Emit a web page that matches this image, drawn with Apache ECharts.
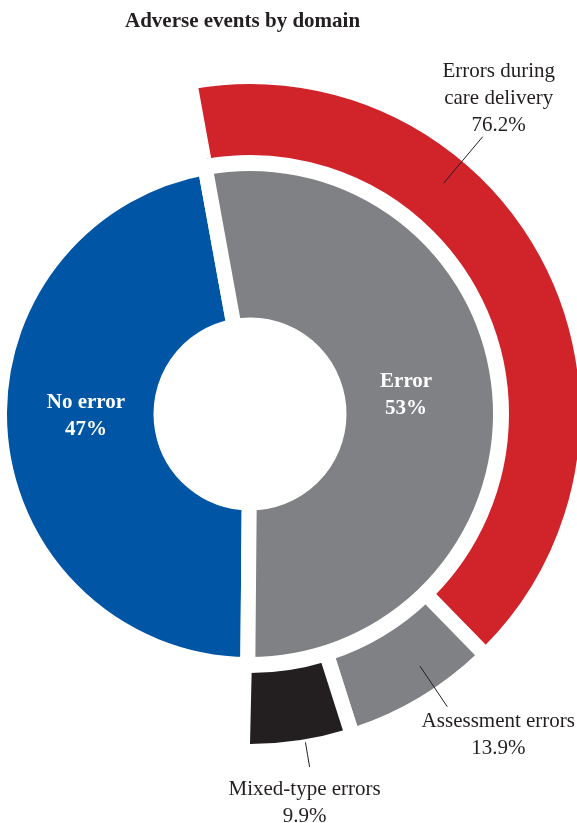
<!DOCTYPE html>
<html>
<head>
<meta charset="utf-8">
<script src="https://cdn.jsdelivr.net/npm/echarts@6/dist/echarts.min.js"></script>
<style>
  html, body { margin: 0; padding: 0; background: #ffffff; }
  #chart { width: 577px; height: 823px; }
</style>
</head>
<body>
<div id="chart"></div>
<script>
// ---- data ----
const titleText = 'Adverse events by domain';
const innerNames = ['No error', 'Error'];
const innerValues = [47, 53];
const outerNames = ['Errors during\ncare delivery', 'Assessment errors', 'Mixed-type errors'];
const outerValues = [76.2, 13.9, 9.9];

// ---- layout / style ----
const CX = 250, CY = 414;
const SERIF = '"Liberation Serif", "Times New Roman", serif';
const innerColors = ['#0055A4', '#808185'];
const outerColors = ['#D1232A', '#808185', '#231F20'];
const GAP = 15;
const innerLabelShift = [[8, -13], [-16, -4]];
const outerLabelCfg = [
  { turn: -22.7, r0: 301, r1: 362, dx: 16, dy: 2, va: 'bottom' },
  { turn: -3.0, r0: 304, r1: 353, dx: 51, dy: 1, va: 'top' },
  { turn: -1.4, r0: 333, r1: 358, dx: -5, dy: 9, va: 'top' }
];

// inner pie: No error starts near 6 o'clock, clockwise
const innerStart = -90.5;
const total = innerValues[0] + innerValues[1];
const errorStart = innerStart - 360 * innerValues[0] / total + 360;
const errorEnd = errorStart - 360 * innerValues[1] / total - 0.8;

const chart = echarts.init(document.getElementById('chart'), null, { renderer: 'canvas' });

const outerBase = {
  type: 'pie',
  center: [CX, CY],
  radius: [251.5, 337.5],
  startAngle: errorStart,
  endAngle: errorEnd,
  clockwise: true,
  avoidLabelOverlap: false,
  silent: true
};

chart.setOption({
  animation: false,
  backgroundColor: '#ffffff',
  title: {
    text: titleText,
    left: 125,
    top: 11,
    padding: 0,
    textStyle: { fontFamily: SERIF, fontSize: 21, fontWeight: 'bold', color: '#231F20' }
  },
  series: [
    {
      name: 'inner',
      type: 'pie',
      z: 2,
      center: [CX, CY],
      radius: [89, 250.5],
      startAngle: innerStart,
      clockwise: true,
      avoidLabelOverlap: false,
      silent: true,
      itemStyle: { borderColor: '#ffffff', borderWidth: GAP },
      label: {
        show: true,
        position: 'inside',
        formatter: '{b}\n{c}%',
        color: '#ffffff',
        fontFamily: SERIF,
        fontSize: 21,
        fontWeight: 'bold',
        lineHeight: 27
      },
      labelLine: { show: false },
      labelLayout: function (p) {
        const s = innerLabelShift[p.dataIndex];
        return { dx: s[0], dy: s[1] };
      },
      data: innerNames.map((n, i) => ({ name: n, value: innerValues[i], itemStyle: { color: innerColors[i] } }))
    },
    Object.assign({}, outerBase, {
      name: 'outer',
      z: 2,
      itemStyle: { borderColor: '#ffffff', borderWidth: GAP, borderRadius: 3 },
      label: { show: false },
      labelLine: { show: false },
      data: outerNames.map((n, i) => ({ name: n, value: outerValues[i], itemStyle: { color: outerColors[i] } }))
    }),
    Object.assign({}, outerBase, {
      name: 'outerLabels',
      z: 5,
      itemStyle: { color: 'rgba(0,0,0,0)', borderWidth: 0 },
      label: {
        show: true,
        position: 'outside',
        formatter: '{b}\n{c}%',
        color: '#231F20',
        fontFamily: SERIF,
        fontSize: 21,
        lineHeight: 27
      },
      labelLine: { show: true, length: 20, length2: 0, lineStyle: { color: '#231F20', width: 1 } },
      labelLayout: function (p) {
        const pts = p.labelLinePoints;
        const cfg = outerLabelCfg[p.dataIndex];
        const a0 = Math.atan2(pts[0][1] - CY, pts[0][0] - CX);
        const a = a0 + cfg.turn * Math.PI / 180;
        const s = [CX + cfg.r0 * Math.cos(a), CY + cfg.r0 * Math.sin(a)];
        const e = [CX + cfg.r1 * Math.cos(a), CY + cfg.r1 * Math.sin(a)];
        return {
          x: e[0] + cfg.dx,
          y: e[1] + cfg.dy,
          align: 'center',
          verticalAlign: cfg.va,
          labelLinePoints: [s, [(s[0] + e[0]) / 2, (s[1] + e[1]) / 2], e]
        };
      },
      data: outerNames.map((n, i) => ({ name: n, value: outerValues[i] }))
    })
  ]
});
</script>
</body>
</html>
